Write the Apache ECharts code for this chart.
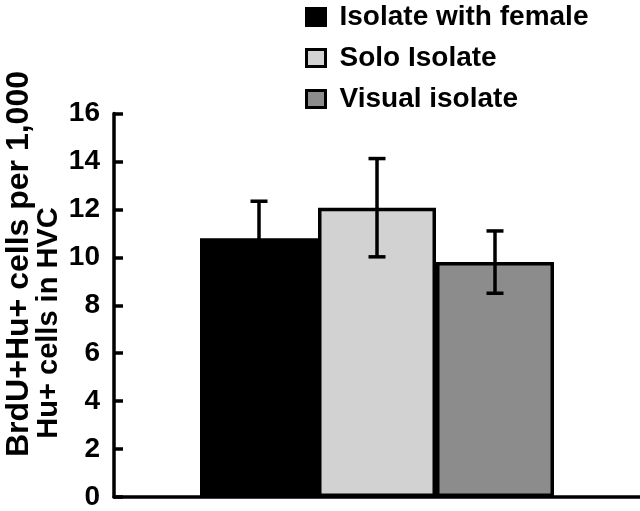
<!DOCTYPE html>
<html>
<head>
<meta charset="utf-8">
<script src="https://cdn.jsdelivr.net/npm/echarts@6/dist/echarts.min.js"></script>
<style>
html,body{margin:0;padding:0;background:#fff;}
#c{width:640px;height:511px;}
</style>
</head>
<body>
<div id="c"></div>
<script>
const groups = ['Isolate with female', 'Solo Isolate', 'Visual isolate'];
const means = [10.8, 12.07, 9.8];
const errors = [1.54, 2.05, 1.3];
const fills = ['#000000', '#d2d2d2', '#8c8c8c'];
const yTicks = [0, 2, 4, 6, 8, 10, 12, 14, 16];
const yTitle = ['BrdU+Hu+ cells per 1,000', 'Hu+ cells in HVC'];

const FONT = '"Liberation Sans", Arial, sans-serif';
const BAR_W = 118;

const chart = echarts.init(document.getElementById('c'), null, {renderer: 'canvas'});

const barSeries = groups.map((g, i) => ({
  name: g,
  type: 'bar',
  data: [means[i]],
  barWidth: BAR_W,
  barGap: '0%',
  itemStyle: {color: fills[i], borderColor: '#000', borderWidth: 3.5},
  emphasis: {disabled: true},
  z: 2
}));

const errSeries = {
  type: 'custom',
  z: 5,
  silent: true,
  data: groups.map((g, i) => [0, i, means[i], errors[i]]),
  renderItem: function (params, api) {
    const i = api.value(1);
    const m = api.value(2);
    const e = api.value(3);
    const top = api.coord([0, m + e]);
    const bot = api.coord([0, m - e]);
    const x = top[0] + (i - 1) * BAR_W;
    const cap = 8.5;
    const st = {stroke: '#000', lineWidth: 3.5};
    return {
      type: 'group',
      children: [
        {type: 'line', shape: {x1: x, y1: top[1], x2: x, y2: bot[1]}, style: st},
        {type: 'line', shape: {x1: x - cap, y1: top[1], x2: x + cap, y2: top[1]}, style: st},
        {type: 'line', shape: {x1: x - cap, y1: bot[1], x2: x + cap, y2: bot[1]}, style: st}
      ]
    };
  }
};

chart.setOption({
  animation: false,
  backgroundColor: '#fff',
  grid: {left: 114, right: 0, top: 113.5, bottom: 7.5, containLabel: false},
  legend: {
    data: groups,
    orient: 'vertical',
    left: 300,
    top: -3,
    itemWidth: 19,
    itemHeight: 17,
    itemGap: 11,
    icon: 'rect',
    itemStyle: {borderColor: '#000', borderWidth: 3},
    textStyle: {fontFamily: FONT, fontWeight: 'bold', fontSize: 28, color: '#000', lineHeight: 30, padding: [0, 0, 0, 9]},
    selectedMode: false
  },
  xAxis: {
    type: 'category',
    data: ['HVC'],
    axisLine: {show: true, lineStyle: {color: '#000', width: 3.5}},
    axisTick: {show: false},
    axisLabel: {show: false},
    splitLine: {show: false}
  },
  yAxis: {
    type: 'value',
    min: yTicks[0],
    max: yTicks[yTicks.length - 1],
    interval: 2,
    axisLine: {show: true, lineStyle: {color: '#000', width: 3.5}},
    axisTick: {show: true, inside: true, length: 9, lineStyle: {color: '#000', width: 3.5}},
    axisLabel: {fontFamily: FONT, fontWeight: 'bold', fontSize: 28, color: '#000', margin: 14, padding: [0, 0, 5, 0]},
    splitLine: {show: false}
  },
  graphic: [
    {type: 'text', x: 19, y: 264, rotation: Math.PI / 2, style: {text: yTitle[0], font: 'bold 32px ' + FONT, fill: '#000', align: 'center', verticalAlign: 'middle'}},
    {type: 'text', x: 49, y: 323, rotation: Math.PI / 2, style: {text: yTitle[1], font: 'bold 29px ' + FONT, fill: '#000', align: 'center', verticalAlign: 'middle'}}
  ],
  series: barSeries.concat([errSeries])
});
</script>
</body>
</html>
